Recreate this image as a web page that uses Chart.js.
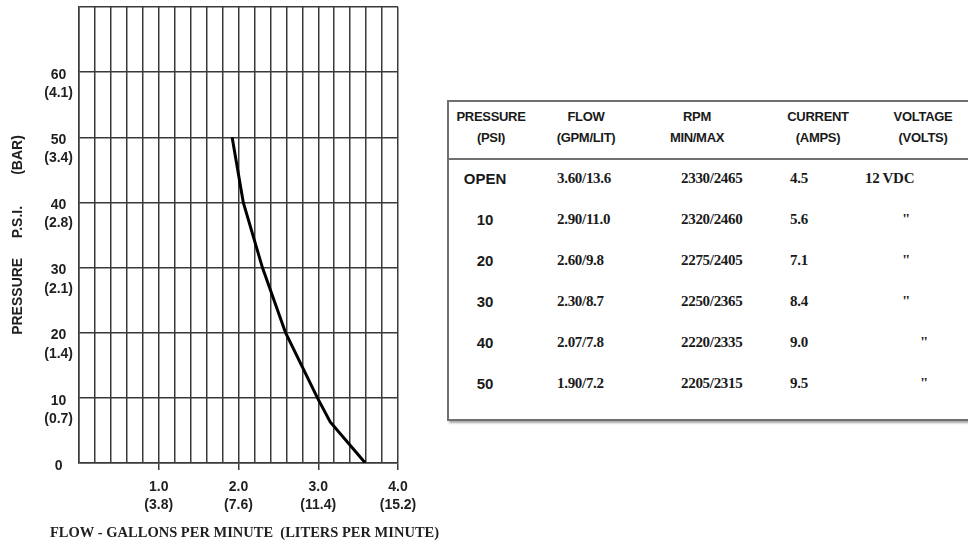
<!DOCTYPE html>
<html>
<head>
<meta charset="utf-8">
<script src="https://cdn.jsdelivr.net/npm/chart.js@4.4.1/dist/chart.umd.min.js"></script>
<style>
  body { margin: 0; background: #fff; width: 968px; height: 546px; overflow: hidden; position: relative; }
  #chartBox { position: absolute; left: 0; top: 0; width: 445px; height: 546px; }
  #specTable { position: absolute; left: 447px; top: 100px; width: 540px; height: 321px;
    border: 2px solid #707070; box-shadow: 2px 2px 2px rgba(0,0,0,0.35); box-sizing: border-box; }
  #specTable .sep { position: absolute; left: 0; right: 0; top: 56px; border-top: 2px solid #707070; }
  .cell { position: absolute; white-space: nowrap; color: #1a1a1a; line-height: 16px; }
  .hd { font: bold 13px "Liberation Sans", Arial, sans-serif; letter-spacing: -0.3px; transform: translateX(-50%); }
  .c1 { font: bold 15px "Liberation Sans", Arial, sans-serif; transform: translateX(-50%); }
  .num { font: bold 15px "Liberation Serif", "Times New Roman", serif; letter-spacing: -0.3px; }
</style>
</head>
<body>
<div id="chartBox"><canvas id="pumpChart"></canvas></div>
<div id="specTable"><div class="sep"></div></div>
<script>
// ---- 曲線データ (流量 GPM / 圧力 PSI) ----
const flowGpm     = [1.92, 2.06, 2.30, 2.59, 2.99, 3.15, 3.59];
const pressurePsi = [50,   40,   30,   20,   10,   6.3,  0];

// ---- 目盛ラベル ----
const xTickGpm    = ['1.0', '2.0', '3.0', '4.0'];
const xTickLiters = ['(3.8)', '(7.6)', '(11.4)', '(15.2)'];
const yTickPsi    = ['0', '10', '20', '30', '40', '50', '60'];
const yTickBar    = ['', '(0.7)', '(1.4)', '(2.1)', '(2.8)', '(3.4)', '(4.1)'];

const xAxisTitle = 'FLOW - GALLONS PER MINUTE  (LITERS PER MINUTE)';
const yAxisTitle = 'PRESSURE     P.S.I.        (BAR)';

// ---- 仕様表 ----
const headTop    = ['PRESSURE', 'FLOW', 'RPM', 'CURRENT', 'VOLTAGE'];
const headBottom = ['(PSI)', '(GPM/LIT)', 'MIN/MAX', '(AMPS)', '(VOLTS)'];
const tablePressure = ['OPEN', '10', '20', '30', '40', '50'];
const tableFlow     = ['3.60/13.6', '2.90/11.0', '2.60/9.8', '2.30/8.7', '2.07/7.8', '1.90/7.2'];
const tableRpm      = ['2330/2465', '2320/2460', '2275/2405', '2250/2365', '2220/2335', '2205/2315'];
const tableCurrent  = ['4.5', '5.6', '7.1', '8.4', '9.0', '9.5'];
const tableVoltage  = ['12 VDC', '"', '"', '"', '"', '"'];

const GRID = '#3a3a3a';
const INK = '#1f1f1f';
const TICK_FONT = { family: '"Liberation Sans", Arial, sans-serif', size: 14, weight: 'bold', lineHeight: 1.3 };

function isWhole(v) {
    return Math.abs(v - Math.round(v)) < 1e-6;
}

// X軸タイトルはグラフ幅より広いので自前で描画 (scale title だと縮められる)
const flowTitlePlugin = {
    id: 'flowTitle',
    afterDraw(chart) {
        const { ctx, chartArea } = chart;
        ctx.save();
        ctx.font = 'bold 14.5px "Liberation Serif", "Times New Roman", serif';
        ctx.fillStyle = INK;
        ctx.textAlign = 'center';
        ctx.textBaseline = 'middle';
        ctx.fillText(xAxisTitle, (chartArea.left + chartArea.right) / 2 + 6, 533);
        ctx.restore();
    }
};

function buildTable() {
    const box = document.getElementById('specTable');
    const ox = 449, oy = 102; // 枠の内側原点
    const headX = [491, 586, 697, 818, 923];
    const rowY = [178, 219, 260, 301, 342, 383];
    const voltX = [865, 902, 902, 902, 920, 920];

    const add = (text, cls, x, y) => {
        const d = document.createElement('div');
        d.className = 'cell ' + cls;
        d.textContent = text;
        d.style.left = (x - ox) + 'px';
        d.style.top = (y - oy - 8) + 'px';
        box.appendChild(d);
    };

    headTop.forEach((t, i) => add(t, 'hd', headX[i], 117));
    headBottom.forEach((t, i) => add(t, 'hd', headX[i], 138));

    rowY.forEach((y, i) => {
        add(tablePressure[i], 'c1', 485, y);
        add(tableFlow[i], 'num', 557, y);
        add(tableRpm[i], 'num', 681, y);
        add(tableCurrent[i], 'num', 790, y);
        add(tableVoltage[i], 'num', voltX[i], y);
    });
}

function renderPumpChart() {
    const ctx = document.getElementById('pumpChart');
    const points = flowGpm.map((x, i) => ({ x: x, y: pressurePsi[i] }));

    new Chart(ctx, {
        type: 'line',
        data: {
            datasets: [{
                data: points,
                borderColor: '#000',
                borderWidth: 3,
                pointRadius: 0,
                tension: 0,
                fill: false
            }]
        },
        plugins: [flowTitlePlugin],
        options: {
            responsive: true,
            maintainAspectRatio: false,
            animation: false,
            devicePixelRatio: 1,
            layout: { padding: { top: 7, right: 47, bottom: 0, left: 0 } },
            plugins: {
                legend: { display: false },
                tooltip: { enabled: false }
            },
            scales: {
                x: {
                    type: 'linear',
                    min: 0,
                    max: 4,
                    afterFit: (s) => { s.height = 83; s.paddingLeft = 0; s.paddingRight = 0; },
                    ticks: {
                        stepSize: 0.2,
                        maxTicksLimit: 40,
                        autoSkip: false,
                        maxRotation: 0,
                        padding: 8,
                        color: INK,
                        font: TICK_FONT,
                        callback: function(value) {
                            if (!isWhole(value) || Math.round(value) < 1) return '';
                            const i = Math.round(value) - 1;
                            return [xTickGpm[i], xTickLiters[i]];
                        }
                    },
                    grid: {
                        color: GRID,
                        lineWidth: 1.5,
                        drawTicks: true,
                        tickLength: 7,
                        tickWidth: 1.5,
                        tickColor: (c) => (c.tick && isWhole(c.tick.value) && c.tick.value >= 1) ? GRID : 'rgba(0,0,0,0)'
                    },
                    border: { display: true, color: GRID, width: 1.5 },
                    title: { display: false }
                },
                y: {
                    min: 0,
                    max: 70,
                    afterFit: (s) => { s.width = 79; s.paddingTop = 0; s.paddingBottom = 0; },
                    ticks: {
                        stepSize: 10,
                        crossAlign: 'center',
                        padding: 6,
                        labelOffset: 12,
                        color: INK,
                        font: TICK_FONT,
                        callback: function(value) {
                            const i = Math.round(value / 10);
                            if (i >= yTickPsi.length) return '';
                            return [yTickPsi[i], yTickBar[i]];
                        }
                    },
                    grid: {
                        color: GRID,
                        lineWidth: 1.5,
                        drawTicks: false
                    },
                    border: { display: true, color: GRID, width: 1.5 },
                    title: {
                        display: true,
                        text: yAxisTitle,
                        color: INK,
                        font: { family: '"Liberation Sans", Arial, sans-serif', size: 14, weight: 'bold' },
                        padding: { top: 10, bottom: 0 }
                    }
                }
            }
        }
    });
}

document.addEventListener('DOMContentLoaded', () => {
    buildTable();
    renderPumpChart();
});
</script>
</body>
</html>
